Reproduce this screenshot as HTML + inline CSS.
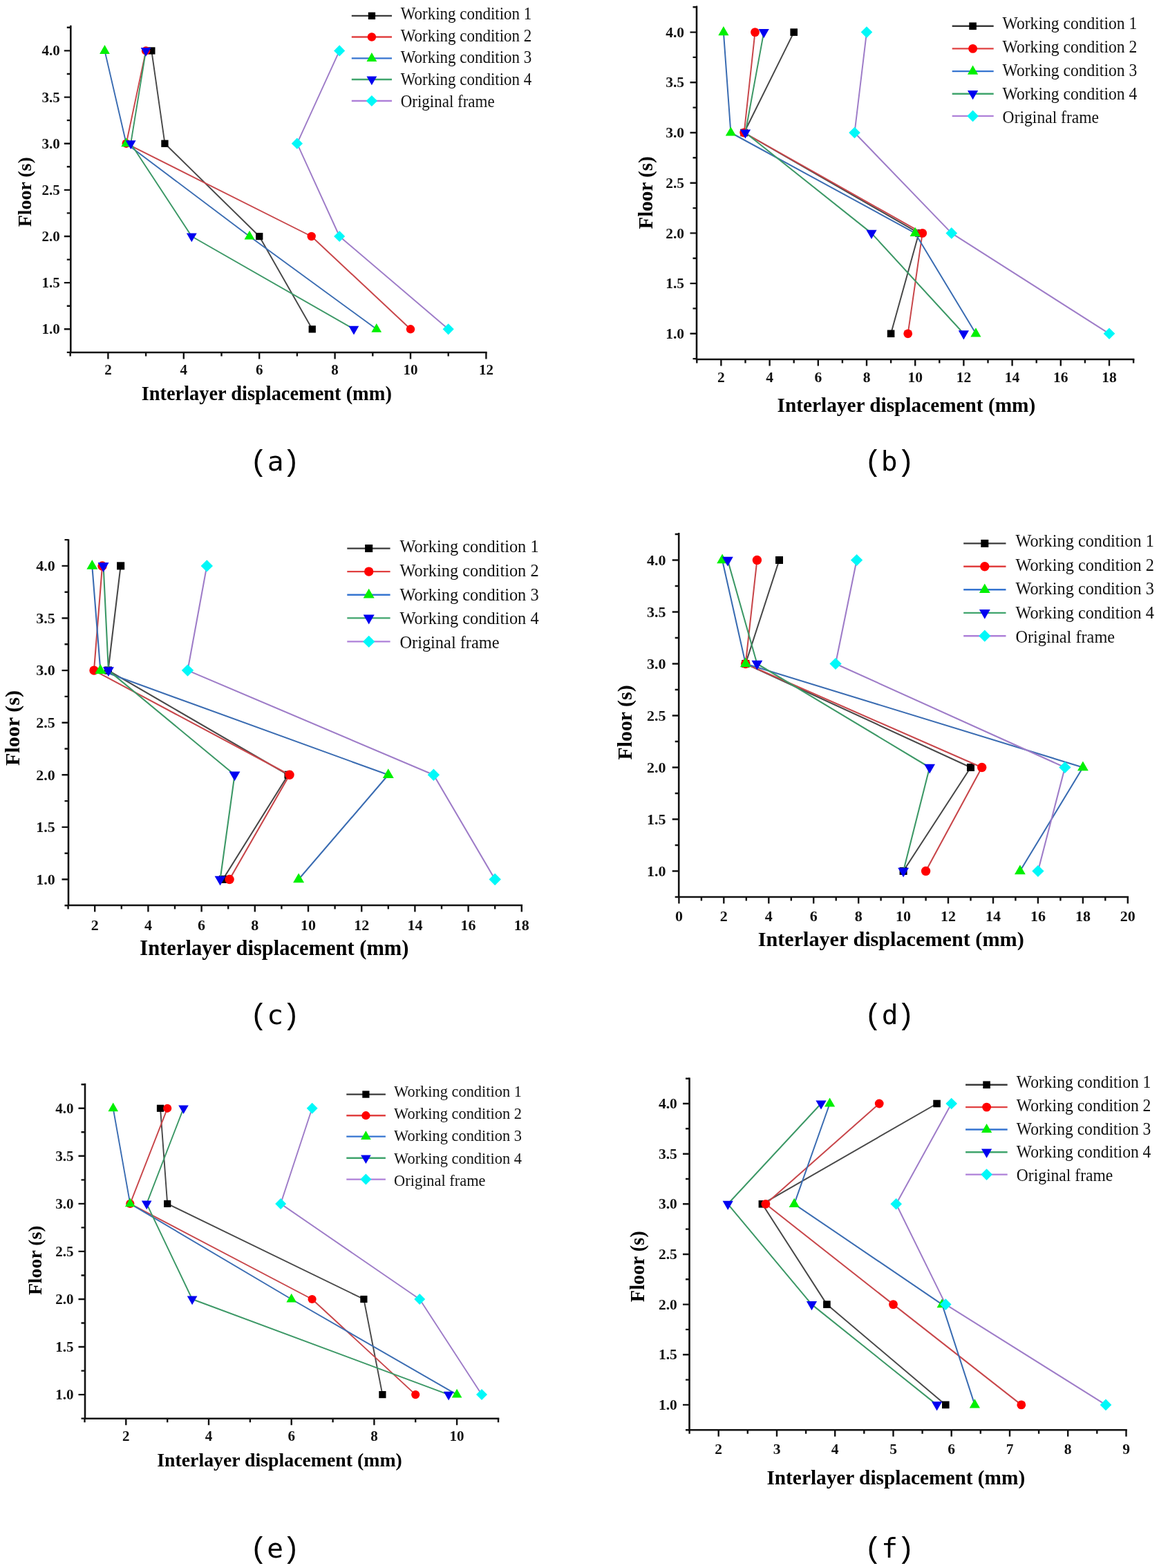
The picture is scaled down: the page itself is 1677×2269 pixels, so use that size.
<!DOCTYPE html>
<html><head><meta charset="utf-8"><title>Interlayer displacement</title>
<style>
html,body{margin:0;padding:0;background:#fff;}
svg{display:block;}

.tl{font-family:"Liberation Serif",serif;font-weight:bold;font-size:21px;fill:#111;}
.ti{font-family:"Liberation Serif",serif;font-weight:bold;fill:#000;}
.lg{font-family:"Liberation Serif",serif;fill:#111;}
.cap{font-family:"DejaVu Sans Mono",monospace;font-size:39.5px;fill:#000;}
.par{font-family:"Liberation Mono",monospace;font-size:42.6px;fill:#000;}
</style></head><body>
<svg width="1677" height="2269" viewBox="0 0 1677 2269">
<rect width="1677" height="2269" fill="#fff"/>
<path d="M102.3 38.0 V510.0 H703.4" fill="none" stroke="#111" stroke-width="2.6" stroke-linecap="square"/>
<text x="86.8" y="483.2" class="tl" style="font-size:21px" text-anchor="end">1.0</text>
<text x="86.8" y="416.1" class="tl" style="font-size:21px" text-anchor="end">1.5</text>
<text x="86.8" y="348.9" class="tl" style="font-size:21px" text-anchor="end">2.0</text>
<text x="86.8" y="281.8" class="tl" style="font-size:21px" text-anchor="end">2.5</text>
<text x="86.8" y="214.6" class="tl" style="font-size:21px" text-anchor="end">3.0</text>
<text x="86.8" y="147.5" class="tl" style="font-size:21px" text-anchor="end">3.5</text>
<text x="86.8" y="80.3" class="tl" style="font-size:21px" text-anchor="end">4.0</text>
<text x="156.4" y="542.0" class="tl" style="font-size:21px" text-anchor="middle">2</text>
<text x="265.8" y="542.0" class="tl" style="font-size:21px" text-anchor="middle">4</text>
<text x="375.2" y="542.0" class="tl" style="font-size:21px" text-anchor="middle">6</text>
<text x="484.6" y="542.0" class="tl" style="font-size:21px" text-anchor="middle">8</text>
<text x="594.0" y="542.0" class="tl" style="font-size:21px" text-anchor="middle">10</text>
<text x="703.4" y="542.0" class="tl" style="font-size:21px" text-anchor="middle">12</text>
<path d="M102.3 509.9 h-5.5 M102.3 476.3 h-9.5 M102.3 442.7 h-5.5 M102.3 409.1 h-9.5 M102.3 375.6 h-5.5 M102.3 342.0 h-9.5 M102.3 308.4 h-5.5 M102.3 274.9 h-9.5 M102.3 241.3 h-5.5 M102.3 207.7 h-9.5 M102.3 174.1 h-5.5 M102.3 140.6 h-9.5 M102.3 107.0 h-5.5 M102.3 73.4 h-9.5 M102.3 39.8 h-5.5 M156.4 510.0 v9.5 M265.8 510.0 v9.5 M375.2 510.0 v9.5 M484.6 510.0 v9.5 M594.0 510.0 v9.5 M703.4 510.0 v9.5 M101.7 510.0 v5.5 M211.1 510.0 v5.5 M320.5 510.0 v5.5 M429.9 510.0 v5.5 M539.3 510.0 v5.5 M648.7 510.0 v5.5" stroke="#111" stroke-width="2.4" fill="none"/>
<polyline points="451.8,476.3 375.2,342.0 238.5,207.7 219.3,73.4" fill="none" stroke="#484848" stroke-width="1.94" stroke-linejoin="round"/>
<rect x="446.6" y="471.2" width="10.3" height="10.3" fill="#000000"/>
<rect x="370.1" y="336.9" width="10.3" height="10.3" fill="#000000"/>
<rect x="233.3" y="202.6" width="10.3" height="10.3" fill="#000000"/>
<rect x="214.2" y="68.3" width="10.3" height="10.3" fill="#000000"/>
<polyline points="594.0,476.3 450.7,342.0 182.7,207.7 211.1,73.4" fill="none" stroke="#c8464a" stroke-width="1.94" stroke-linejoin="round"/>
<circle cx="594.0" cy="476.3" r="6.2" fill="#ff0000"/>
<circle cx="450.7" cy="342.0" r="6.2" fill="#ff0000"/>
<circle cx="182.7" cy="207.7" r="6.2" fill="#ff0000"/>
<circle cx="211.1" cy="73.4" r="6.2" fill="#ff0000"/>
<polyline points="544.8,476.3 361.0,342.0 182.7,207.7 151.5,73.4" fill="none" stroke="#3a6cb2" stroke-width="1.94" stroke-linejoin="round"/>
<polygon points="544.8,468.0 552.1,480.8 537.4,480.8" fill="#00f000"/>
<polygon points="361.0,333.7 368.4,346.5 353.6,346.5" fill="#00f000"/>
<polygon points="182.7,199.4 190.0,212.2 175.3,212.2" fill="#00f000"/>
<polygon points="151.5,65.1 158.8,77.9 144.1,77.9" fill="#00f000"/>
<polyline points="512.0,476.3 277.3,342.0 189.2,207.7 211.1,73.4" fill="none" stroke="#3c9866" stroke-width="1.94" stroke-linejoin="round"/>
<polygon points="512.0,484.6 519.3,471.8 504.6,471.8" fill="#0000f0"/>
<polygon points="277.3,350.3 284.7,337.5 269.9,337.5" fill="#0000f0"/>
<polygon points="189.2,216.0 196.6,203.2 181.8,203.2" fill="#0000f0"/>
<polygon points="211.1,81.7 218.5,68.9 203.7,68.9" fill="#0000f0"/>
<polyline points="648.7,476.3 491.2,342.0 429.9,207.7 491.2,73.4" fill="none" stroke="#9e7cc8" stroke-width="1.94" stroke-linejoin="round"/>
<polygon points="648.7,468.2 656.8,476.3 648.7,484.4 640.6,476.3" fill="#00f8f8"/>
<polygon points="491.2,333.9 499.2,342.0 491.2,350.1 483.1,342.0" fill="#00f8f8"/>
<polygon points="429.9,199.6 438.0,207.7 429.9,215.8 421.8,207.7" fill="#00f8f8"/>
<polygon points="491.2,65.3 499.2,73.4 491.2,81.5 483.1,73.4" fill="#00f8f8"/>
<line x1="508.8" y1="22.9" x2="567.0" y2="22.9" stroke="#3a3a3a" stroke-width="2.4"/>
<rect x="532.8" y="17.8" width="10.3" height="10.3" fill="#000000"/>
<text transform="translate(579.7 27.7) scale(1 1.07)" class="lg" style="font-size:23px">Working condition 1</text>
<line x1="508.8" y1="53.5" x2="567.0" y2="53.5" stroke="#e04040" stroke-width="2.4"/>
<circle cx="537.9" cy="53.5" r="6.2" fill="#ff0000"/>
<text transform="translate(579.7 59.5) scale(1 1.07)" class="lg" style="font-size:23px">Working condition 2</text>
<line x1="508.8" y1="84.4" x2="567.0" y2="84.4" stroke="#3574d0" stroke-width="2.4"/>
<polygon points="537.9,76.1 545.3,88.9 530.5,88.9" fill="#00f000"/>
<text transform="translate(579.7 91.4) scale(1 1.07)" class="lg" style="font-size:23px">Working condition 3</text>
<line x1="508.8" y1="115.0" x2="567.0" y2="115.0" stroke="#3fa46c" stroke-width="2.4"/>
<polygon points="537.9,123.3 545.3,110.5 530.5,110.5" fill="#0000f0"/>
<text transform="translate(579.7 123.2) scale(1 1.07)" class="lg" style="font-size:23px">Working condition 4</text>
<line x1="508.8" y1="146.0" x2="567.0" y2="146.0" stroke="#ae80d8" stroke-width="2.4"/>
<polygon points="537.9,137.9 546.0,146.0 537.9,154.1 529.8,146.0" fill="#00f8f8"/>
<text transform="translate(579.7 155.1) scale(1 1.07)" class="lg" style="font-size:23px">Original frame</text>
<text x="385.8" y="579.3" class="ti" style="font-size:28.4px" text-anchor="middle">Interlayer displacement (mm)</text>
<text transform="translate(45.2 277.8) rotate(-90)" class="ti" style="font-size:27.9px" text-anchor="middle">Floor (s)</text>
<text x="374.3" y="680.6" class="par" text-anchor="middle">(</text>
<text x="398.6" y="680.5" class="cap" text-anchor="middle">a</text>
<text x="421.4" y="680.6" class="par" text-anchor="middle">)</text>
<path d="M1008.0 9.7 V520.0 H1640.1" fill="none" stroke="#111" stroke-width="2.6" stroke-linecap="square"/>
<text x="990.0" y="489.9" class="tl" style="font-size:21.5px" text-anchor="end">1.0</text>
<text x="990.0" y="417.2" class="tl" style="font-size:21.5px" text-anchor="end">1.5</text>
<text x="990.0" y="344.5" class="tl" style="font-size:21.5px" text-anchor="end">2.0</text>
<text x="990.0" y="271.8" class="tl" style="font-size:21.5px" text-anchor="end">2.5</text>
<text x="990.0" y="199.1" class="tl" style="font-size:21.5px" text-anchor="end">3.0</text>
<text x="990.0" y="126.4" class="tl" style="font-size:21.5px" text-anchor="end">3.5</text>
<text x="990.0" y="53.7" class="tl" style="font-size:21.5px" text-anchor="end">4.0</text>
<text x="1043.4" y="553.2" class="tl" style="font-size:21.5px" text-anchor="middle">2</text>
<text x="1113.6" y="553.2" class="tl" style="font-size:21.5px" text-anchor="middle">4</text>
<text x="1183.8" y="553.2" class="tl" style="font-size:21.5px" text-anchor="middle">6</text>
<text x="1254.0" y="553.2" class="tl" style="font-size:21.5px" text-anchor="middle">8</text>
<text x="1324.2" y="553.2" class="tl" style="font-size:21.5px" text-anchor="middle">10</text>
<text x="1394.4" y="553.2" class="tl" style="font-size:21.5px" text-anchor="middle">12</text>
<text x="1464.6" y="553.2" class="tl" style="font-size:21.5px" text-anchor="middle">14</text>
<text x="1534.8" y="553.2" class="tl" style="font-size:21.5px" text-anchor="middle">16</text>
<text x="1605.0" y="553.2" class="tl" style="font-size:21.5px" text-anchor="middle">18</text>
<path d="M1008.0 519.1 h-5.5 M1008.0 482.8 h-9.5 M1008.0 446.4 h-5.5 M1008.0 410.1 h-9.5 M1008.0 373.8 h-5.5 M1008.0 337.4 h-9.5 M1008.0 301.1 h-5.5 M1008.0 264.7 h-9.5 M1008.0 228.3 h-5.5 M1008.0 192.0 h-9.5 M1008.0 155.6 h-5.5 M1008.0 119.3 h-9.5 M1008.0 82.9 h-5.5 M1008.0 46.6 h-9.5 M1008.0 10.2 h-5.5 M1043.4 520.0 v9.5 M1113.6 520.0 v9.5 M1183.8 520.0 v9.5 M1254.0 520.0 v9.5 M1324.2 520.0 v9.5 M1394.4 520.0 v9.5 M1464.6 520.0 v9.5 M1534.8 520.0 v9.5 M1605.0 520.0 v9.5 M1008.3 520.0 v5.5 M1078.5 520.0 v5.5 M1148.7 520.0 v5.5 M1218.9 520.0 v5.5 M1289.1 520.0 v5.5 M1359.3 520.0 v5.5 M1429.5 520.0 v5.5 M1499.7 520.0 v5.5 M1569.9 520.0 v5.5 M1640.1 520.0 v5.5" stroke="#111" stroke-width="2.4" fill="none"/>
<polyline points="1289.1,482.8 1329.5,337.4 1076.7,192.0 1148.7,46.6" fill="none" stroke="#484848" stroke-width="2.00" stroke-linejoin="round"/>
<rect x="1283.8" y="477.5" width="10.6" height="10.6" fill="#000000"/>
<rect x="1324.2" y="332.1" width="10.6" height="10.6" fill="#000000"/>
<rect x="1071.4" y="186.7" width="10.6" height="10.6" fill="#000000"/>
<rect x="1143.4" y="41.3" width="10.6" height="10.6" fill="#000000"/>
<polyline points="1313.7,482.8 1334.7,337.4 1076.7,192.0 1092.5,46.6" fill="none" stroke="#c8464a" stroke-width="2.00" stroke-linejoin="round"/>
<circle cx="1313.7" cy="482.8" r="6.4" fill="#ff0000"/>
<circle cx="1334.7" cy="337.4" r="6.4" fill="#ff0000"/>
<circle cx="1076.7" cy="192.0" r="6.4" fill="#ff0000"/>
<circle cx="1092.5" cy="46.6" r="6.4" fill="#ff0000"/>
<polyline points="1412.0,482.8 1324.2,337.4 1057.4,192.0 1046.9,46.6" fill="none" stroke="#3a6cb2" stroke-width="2.00" stroke-linejoin="round"/>
<polygon points="1412.0,474.2 1419.5,487.4 1404.4,487.4" fill="#00f000"/>
<polygon points="1324.2,328.8 1331.8,342.0 1316.6,342.0" fill="#00f000"/>
<polygon points="1057.4,183.4 1065.0,196.6 1049.8,196.6" fill="#00f000"/>
<polygon points="1046.9,38.0 1054.5,51.2 1039.3,51.2" fill="#00f000"/>
<polyline points="1394.4,482.8 1261.0,337.4 1078.5,192.0 1105.2,46.6" fill="none" stroke="#3c9866" stroke-width="2.00" stroke-linejoin="round"/>
<polygon points="1394.4,491.4 1402.0,478.2 1386.8,478.2" fill="#0000f0"/>
<polygon points="1261.0,346.0 1268.6,332.8 1253.4,332.8" fill="#0000f0"/>
<polygon points="1078.5,200.6 1086.1,187.4 1070.9,187.4" fill="#0000f0"/>
<polygon points="1105.2,55.2 1112.8,42.0 1097.6,42.0" fill="#0000f0"/>
<polyline points="1605.0,482.8 1376.8,337.4 1236.5,192.0 1254.0,46.6" fill="none" stroke="#9e7cc8" stroke-width="2.00" stroke-linejoin="round"/>
<polygon points="1605.0,474.5 1613.3,482.8 1605.0,491.1 1596.7,482.8" fill="#00f8f8"/>
<polygon points="1376.8,329.1 1385.1,337.4 1376.8,345.7 1368.5,337.4" fill="#00f8f8"/>
<polygon points="1236.5,183.7 1244.8,192.0 1236.5,200.3 1228.2,192.0" fill="#00f8f8"/>
<polygon points="1254.0,38.3 1262.3,46.6 1254.0,54.9 1245.7,46.6" fill="#00f8f8"/>
<line x1="1377.7" y1="37.8" x2="1437.7" y2="37.8" stroke="#3a3a3a" stroke-width="2.4"/>
<rect x="1402.3" y="32.5" width="10.6" height="10.6" fill="#000000"/>
<text transform="translate(1450.6 42.4) scale(1 1.07)" class="lg" style="font-size:23.6px">Working condition 1</text>
<line x1="1377.7" y1="70.4" x2="1437.7" y2="70.4" stroke="#e04040" stroke-width="2.4"/>
<circle cx="1407.6" cy="70.4" r="6.4" fill="#ff0000"/>
<text transform="translate(1450.6 76.2) scale(1 1.07)" class="lg" style="font-size:23.6px">Working condition 2</text>
<line x1="1377.7" y1="103.1" x2="1437.7" y2="103.1" stroke="#3574d0" stroke-width="2.4"/>
<polygon points="1407.6,94.5 1415.2,107.7 1400.0,107.7" fill="#00f000"/>
<text transform="translate(1450.6 109.9) scale(1 1.07)" class="lg" style="font-size:23.6px">Working condition 3</text>
<line x1="1377.7" y1="135.7" x2="1437.7" y2="135.7" stroke="#3fa46c" stroke-width="2.4"/>
<polygon points="1407.6,144.3 1415.2,131.1 1400.0,131.1" fill="#0000f0"/>
<text transform="translate(1450.6 143.7) scale(1 1.07)" class="lg" style="font-size:23.6px">Working condition 4</text>
<line x1="1377.7" y1="167.9" x2="1437.7" y2="167.9" stroke="#ae80d8" stroke-width="2.4"/>
<polygon points="1407.6,159.6 1415.9,167.9 1407.6,176.2 1399.3,167.9" fill="#00f8f8"/>
<text transform="translate(1450.6 177.5) scale(1 1.07)" class="lg" style="font-size:23.6px">Original frame</text>
<text x="1311.4" y="596.4" class="ti" style="font-size:29.3px" text-anchor="middle">Interlayer displacement (mm)</text>
<text transform="translate(943.8 278.9) rotate(-90)" class="ti" style="font-size:29.1px" text-anchor="middle">Floor (s)</text>
<text x="1263.4" y="680.6" class="par" text-anchor="middle">(</text>
<text x="1286.7" y="680.5" class="cap" text-anchor="middle">b</text>
<text x="1310.5" y="680.6" class="par" text-anchor="middle">)</text>
<path d="M99.0 781.6 V1310.0 H754.8" fill="none" stroke="#111" stroke-width="2.6" stroke-linecap="square"/>
<text x="79.8" y="1279.8" class="tl" style="font-size:22px" text-anchor="end">1.0</text>
<text x="79.8" y="1204.2" class="tl" style="font-size:22px" text-anchor="end">1.5</text>
<text x="79.8" y="1128.6" class="tl" style="font-size:22px" text-anchor="end">2.0</text>
<text x="79.8" y="1053.0" class="tl" style="font-size:22px" text-anchor="end">2.5</text>
<text x="79.8" y="977.4" class="tl" style="font-size:22px" text-anchor="end">3.0</text>
<text x="79.8" y="901.8" class="tl" style="font-size:22px" text-anchor="end">3.5</text>
<text x="79.8" y="826.2" class="tl" style="font-size:22px" text-anchor="end">4.0</text>
<text x="137.2" y="1345.8" class="tl" style="font-size:22px" text-anchor="middle">2</text>
<text x="214.4" y="1345.8" class="tl" style="font-size:22px" text-anchor="middle">4</text>
<text x="291.6" y="1345.8" class="tl" style="font-size:22px" text-anchor="middle">6</text>
<text x="368.8" y="1345.8" class="tl" style="font-size:22px" text-anchor="middle">8</text>
<text x="446.0" y="1345.8" class="tl" style="font-size:22px" text-anchor="middle">10</text>
<text x="523.2" y="1345.8" class="tl" style="font-size:22px" text-anchor="middle">12</text>
<text x="600.4" y="1345.8" class="tl" style="font-size:22px" text-anchor="middle">14</text>
<text x="677.6" y="1345.8" class="tl" style="font-size:22px" text-anchor="middle">16</text>
<text x="754.8" y="1345.8" class="tl" style="font-size:22px" text-anchor="middle">18</text>
<path d="M99.0 1310.3 h-5.5 M99.0 1272.5 h-9.5 M99.0 1234.7 h-5.5 M99.0 1196.9 h-9.5 M99.0 1159.1 h-5.5 M99.0 1121.3 h-9.5 M99.0 1083.5 h-5.5 M99.0 1045.7 h-9.5 M99.0 1007.9 h-5.5 M99.0 970.1 h-9.5 M99.0 932.3 h-5.5 M99.0 894.5 h-9.5 M99.0 856.7 h-5.5 M99.0 818.9 h-9.5 M99.0 781.1 h-5.5 M137.2 1310.0 v9.5 M214.4 1310.0 v9.5 M291.6 1310.0 v9.5 M368.8 1310.0 v9.5 M446.0 1310.0 v9.5 M523.2 1310.0 v9.5 M600.4 1310.0 v9.5 M677.6 1310.0 v9.5 M754.8 1310.0 v9.5 M98.6 1310.0 v5.5 M175.8 1310.0 v5.5 M253.0 1310.0 v5.5 M330.2 1310.0 v5.5 M407.4 1310.0 v5.5 M484.6 1310.0 v5.5 M561.8 1310.0 v5.5 M639.0 1310.0 v5.5 M716.2 1310.0 v5.5" stroke="#111" stroke-width="2.4" fill="none"/>
<polyline points="322.5,1272.5 417.0,1121.3 156.5,970.1 174.6,818.9" fill="none" stroke="#484848" stroke-width="2.10" stroke-linejoin="round"/>
<rect x="316.9" y="1266.9" width="11.1" height="11.1" fill="#000000"/>
<rect x="411.5" y="1115.7" width="11.1" height="11.1" fill="#000000"/>
<rect x="150.9" y="964.5" width="11.1" height="11.1" fill="#000000"/>
<rect x="169.1" y="813.3" width="11.1" height="11.1" fill="#000000"/>
<polyline points="332.1,1272.5 419.0,1121.3 136.0,970.1 148.0,818.9" fill="none" stroke="#c8464a" stroke-width="2.10" stroke-linejoin="round"/>
<circle cx="332.1" cy="1272.5" r="6.7" fill="#ff0000"/>
<circle cx="419.0" cy="1121.3" r="6.7" fill="#ff0000"/>
<circle cx="136.0" cy="970.1" r="6.7" fill="#ff0000"/>
<circle cx="148.0" cy="818.9" r="6.7" fill="#ff0000"/>
<polyline points="432.1,1272.5 561.8,1121.3 145.3,970.1 133.3,818.9" fill="none" stroke="#3a6cb2" stroke-width="2.10" stroke-linejoin="round"/>
<polygon points="432.1,1263.5 440.1,1277.3 424.1,1277.3" fill="#00f000"/>
<polygon points="561.8,1112.3 569.8,1126.1 553.8,1126.1" fill="#00f000"/>
<polygon points="145.3,961.1 153.3,974.9 137.3,974.9" fill="#00f000"/>
<polygon points="133.3,809.9 141.3,823.7 125.4,823.7" fill="#00f000"/>
<polyline points="318.6,1272.5 339.5,1121.3 156.9,970.1 149.6,818.9" fill="none" stroke="#3c9866" stroke-width="2.10" stroke-linejoin="round"/>
<polygon points="318.6,1281.5 326.6,1267.7 310.6,1267.7" fill="#0000f0"/>
<polygon points="339.5,1130.3 347.4,1116.5 331.5,1116.5" fill="#0000f0"/>
<polygon points="156.9,979.1 164.9,965.3 148.9,965.3" fill="#0000f0"/>
<polygon points="149.6,827.9 157.5,814.1 141.6,814.1" fill="#0000f0"/>
<polyline points="716.2,1272.5 627.4,1121.3 271.5,970.1 299.3,818.9" fill="none" stroke="#9e7cc8" stroke-width="2.10" stroke-linejoin="round"/>
<polygon points="716.2,1263.8 724.9,1272.5 716.2,1281.2 707.5,1272.5" fill="#00f8f8"/>
<polygon points="627.4,1112.6 636.1,1121.3 627.4,1130.0 618.7,1121.3" fill="#00f8f8"/>
<polygon points="271.5,961.4 280.2,970.1 271.5,978.8 262.8,970.1" fill="#00f8f8"/>
<polygon points="299.3,810.2 308.0,818.9 299.3,827.6 290.6,818.9" fill="#00f8f8"/>
<line x1="502.3" y1="793.6" x2="564.6" y2="793.6" stroke="#3a3a3a" stroke-width="2.4"/>
<rect x="528.1" y="788.0" width="11.1" height="11.1" fill="#000000"/>
<text transform="translate(578.4 798.7) scale(1 1.07)" class="lg" style="font-size:24.4px">Working condition 1</text>
<line x1="502.3" y1="827.1" x2="564.6" y2="827.1" stroke="#e04040" stroke-width="2.4"/>
<circle cx="533.7" cy="827.1" r="6.7" fill="#ff0000"/>
<text transform="translate(578.4 833.6) scale(1 1.07)" class="lg" style="font-size:24.4px">Working condition 2</text>
<line x1="502.3" y1="860.7" x2="564.6" y2="860.7" stroke="#3574d0" stroke-width="2.4"/>
<polygon points="533.7,851.7 541.7,865.5 525.7,865.5" fill="#00f000"/>
<text transform="translate(578.4 868.5) scale(1 1.07)" class="lg" style="font-size:24.4px">Working condition 3</text>
<line x1="502.3" y1="894.4" x2="564.6" y2="894.4" stroke="#3fa46c" stroke-width="2.4"/>
<polygon points="533.7,903.4 541.7,889.6 525.7,889.6" fill="#0000f0"/>
<text transform="translate(578.4 903.3) scale(1 1.07)" class="lg" style="font-size:24.4px">Working condition 4</text>
<line x1="502.3" y1="928.4" x2="564.6" y2="928.4" stroke="#ae80d8" stroke-width="2.4"/>
<polygon points="533.7,919.7 542.4,928.4 533.7,937.1 525.0,928.4" fill="#00f8f8"/>
<text transform="translate(578.4 938.2) scale(1 1.07)" class="lg" style="font-size:24.4px">Original frame</text>
<text x="396.9" y="1381.8" class="ti" style="font-size:30.5px" text-anchor="middle">Interlayer displacement (mm)</text>
<text transform="translate(28.4 1053.5) rotate(-90)" class="ti" style="font-size:30.1px" text-anchor="middle">Floor (s)</text>
<text x="374.3" y="1482.1" class="par" text-anchor="middle">(</text>
<text x="398.1" y="1482.3" class="cap" text-anchor="middle">c</text>
<text x="421.4" y="1482.1" class="par" text-anchor="middle">)</text>
<path d="M982.2 772.2 V1298.0 H1631.8" fill="none" stroke="#111" stroke-width="2.6" stroke-linecap="square"/>
<text x="963.5" y="1267.8" class="tl" style="font-size:22px" text-anchor="end">1.0</text>
<text x="963.5" y="1192.8" class="tl" style="font-size:22px" text-anchor="end">1.5</text>
<text x="963.5" y="1117.8" class="tl" style="font-size:22px" text-anchor="end">2.0</text>
<text x="963.5" y="1042.8" class="tl" style="font-size:22px" text-anchor="end">2.5</text>
<text x="963.5" y="967.8" class="tl" style="font-size:22px" text-anchor="end">3.0</text>
<text x="963.5" y="892.8" class="tl" style="font-size:22px" text-anchor="end">3.5</text>
<text x="963.5" y="817.8" class="tl" style="font-size:22px" text-anchor="end">4.0</text>
<text x="982.4" y="1333.0" class="tl" style="font-size:22px" text-anchor="middle">0</text>
<text x="1047.3" y="1333.0" class="tl" style="font-size:22px" text-anchor="middle">2</text>
<text x="1112.3" y="1333.0" class="tl" style="font-size:22px" text-anchor="middle">4</text>
<text x="1177.2" y="1333.0" class="tl" style="font-size:22px" text-anchor="middle">6</text>
<text x="1242.2" y="1333.0" class="tl" style="font-size:22px" text-anchor="middle">8</text>
<text x="1307.1" y="1333.0" class="tl" style="font-size:22px" text-anchor="middle">10</text>
<text x="1372.0" y="1333.0" class="tl" style="font-size:22px" text-anchor="middle">12</text>
<text x="1437.0" y="1333.0" class="tl" style="font-size:22px" text-anchor="middle">14</text>
<text x="1501.9" y="1333.0" class="tl" style="font-size:22px" text-anchor="middle">16</text>
<text x="1566.9" y="1333.0" class="tl" style="font-size:22px" text-anchor="middle">18</text>
<text x="1631.8" y="1333.0" class="tl" style="font-size:22px" text-anchor="middle">20</text>
<path d="M982.2 1298.0 h-5.5 M982.2 1260.5 h-9.5 M982.2 1223.0 h-5.5 M982.2 1185.5 h-9.5 M982.2 1148.0 h-5.5 M982.2 1110.5 h-9.5 M982.2 1073.0 h-5.5 M982.2 1035.5 h-9.5 M982.2 998.0 h-5.5 M982.2 960.5 h-9.5 M982.2 923.0 h-5.5 M982.2 885.5 h-9.5 M982.2 848.0 h-5.5 M982.2 810.5 h-9.5 M982.2 773.0 h-5.5 M982.4 1298.0 v9.5 M1047.3 1298.0 v9.5 M1112.3 1298.0 v9.5 M1177.2 1298.0 v9.5 M1242.2 1298.0 v9.5 M1307.1 1298.0 v9.5 M1372.0 1298.0 v9.5 M1437.0 1298.0 v9.5 M1501.9 1298.0 v9.5 M1566.9 1298.0 v9.5 M1631.8 1298.0 v9.5 M1014.9 1298.0 v5.5 M1079.8 1298.0 v5.5 M1144.8 1298.0 v5.5 M1209.7 1298.0 v5.5 M1274.6 1298.0 v5.5 M1339.6 1298.0 v5.5 M1404.5 1298.0 v5.5 M1469.4 1298.0 v5.5 M1534.4 1298.0 v5.5 M1599.3 1298.0 v5.5" stroke="#111" stroke-width="2.4" fill="none"/>
<polyline points="1307.1,1260.5 1404.5,1110.5 1078.8,960.5 1127.5,810.5" fill="none" stroke="#484848" stroke-width="2.08" stroke-linejoin="round"/>
<rect x="1301.6" y="1255.0" width="11.0" height="11.0" fill="#000000"/>
<rect x="1399.0" y="1105.0" width="11.0" height="11.0" fill="#000000"/>
<rect x="1073.3" y="955.0" width="11.0" height="11.0" fill="#000000"/>
<rect x="1122.0" y="805.0" width="11.0" height="11.0" fill="#000000"/>
<polyline points="1339.6,1260.5 1420.7,1110.5 1078.8,960.5 1095.4,810.5" fill="none" stroke="#c8464a" stroke-width="2.08" stroke-linejoin="round"/>
<circle cx="1339.6" cy="1260.5" r="6.7" fill="#ff0000"/>
<circle cx="1420.7" cy="1110.5" r="6.7" fill="#ff0000"/>
<circle cx="1078.8" cy="960.5" r="6.7" fill="#ff0000"/>
<circle cx="1095.4" cy="810.5" r="6.7" fill="#ff0000"/>
<polyline points="1475.9,1260.5 1566.9,1110.5 1078.8,960.5 1045.1,810.5" fill="none" stroke="#3a6cb2" stroke-width="2.08" stroke-linejoin="round"/>
<polygon points="1475.9,1251.6 1483.8,1265.3 1468.0,1265.3" fill="#00f000"/>
<polygon points="1566.9,1101.6 1574.8,1115.3 1559.0,1115.3" fill="#00f000"/>
<polygon points="1078.8,951.6 1086.7,965.3 1070.9,965.3" fill="#00f000"/>
<polygon points="1045.1,801.6 1053.0,815.3 1037.2,815.3" fill="#00f000"/>
<polyline points="1307.1,1260.5 1345.1,1110.5 1095.4,960.5 1052.9,810.5" fill="none" stroke="#3c9866" stroke-width="2.08" stroke-linejoin="round"/>
<polygon points="1307.1,1269.4 1315.0,1255.7 1299.2,1255.7" fill="#0000f0"/>
<polygon points="1345.1,1119.4 1353.0,1105.7 1337.2,1105.7" fill="#0000f0"/>
<polygon points="1095.4,969.4 1103.3,955.7 1087.5,955.7" fill="#0000f0"/>
<polygon points="1052.9,819.4 1060.8,805.7 1045.0,805.7" fill="#0000f0"/>
<polyline points="1501.9,1260.5 1540.9,1110.5 1209.0,960.5 1239.6,810.5" fill="none" stroke="#9e7cc8" stroke-width="2.08" stroke-linejoin="round"/>
<polygon points="1501.9,1251.9 1510.6,1260.5 1501.9,1269.1 1493.3,1260.5" fill="#00f8f8"/>
<polygon points="1540.9,1101.9 1549.5,1110.5 1540.9,1119.1 1532.3,1110.5" fill="#00f8f8"/>
<polygon points="1209.0,951.9 1217.7,960.5 1209.0,969.1 1200.4,960.5" fill="#00f8f8"/>
<polygon points="1239.6,801.9 1248.2,810.5 1239.6,819.1 1230.9,810.5" fill="#00f8f8"/>
<line x1="1394.2" y1="786.4" x2="1455.5" y2="786.4" stroke="#3a3a3a" stroke-width="2.4"/>
<rect x="1419.3" y="780.9" width="11.0" height="11.0" fill="#000000"/>
<text transform="translate(1469.4 790.7) scale(1 1.07)" class="lg" style="font-size:24.3px">Working condition 1</text>
<line x1="1394.2" y1="819.8" x2="1455.5" y2="819.8" stroke="#e04040" stroke-width="2.4"/>
<circle cx="1424.8" cy="819.8" r="6.7" fill="#ff0000"/>
<text transform="translate(1469.4 825.5) scale(1 1.07)" class="lg" style="font-size:24.3px">Working condition 2</text>
<line x1="1394.2" y1="853.3" x2="1455.5" y2="853.3" stroke="#3574d0" stroke-width="2.4"/>
<polygon points="1424.8,844.4 1432.7,858.1 1416.9,858.1" fill="#00f000"/>
<text transform="translate(1469.4 860.2) scale(1 1.07)" class="lg" style="font-size:24.3px">Working condition 3</text>
<line x1="1394.2" y1="886.9" x2="1455.5" y2="886.9" stroke="#3fa46c" stroke-width="2.4"/>
<polygon points="1424.8,895.8 1432.7,882.1 1416.9,882.1" fill="#0000f0"/>
<text transform="translate(1469.4 895.0) scale(1 1.07)" class="lg" style="font-size:24.3px">Working condition 4</text>
<line x1="1394.2" y1="920.2" x2="1455.5" y2="920.2" stroke="#ae80d8" stroke-width="2.4"/>
<polygon points="1424.8,911.6 1433.4,920.2 1424.8,928.8 1416.2,920.2" fill="#00f8f8"/>
<text transform="translate(1469.4 929.7) scale(1 1.07)" class="lg" style="font-size:24.3px">Original frame</text>
<text x="1289.2" y="1369.2" class="ti" style="font-size:30.2px" text-anchor="middle">Interlayer displacement (mm)</text>
<text transform="translate(913.6 1045.5) rotate(-90)" class="ti" style="font-size:29.9px" text-anchor="middle">Floor (s)</text>
<text x="1263.4" y="1482.1" class="par" text-anchor="middle">(</text>
<text x="1287.7" y="1482.3" class="cap" text-anchor="middle">d</text>
<text x="1310.5" y="1482.1" class="par" text-anchor="middle">)</text>
<path d="M123.0 1569.0 V2052.8 H721.0" fill="none" stroke="#111" stroke-width="2.6" stroke-linecap="square"/>
<text x="106.5" y="2025.0" class="tl" style="font-size:21px" text-anchor="end">1.0</text>
<text x="106.5" y="1956.0" class="tl" style="font-size:21px" text-anchor="end">1.5</text>
<text x="106.5" y="1886.9" class="tl" style="font-size:21px" text-anchor="end">2.0</text>
<text x="106.5" y="1817.9" class="tl" style="font-size:21px" text-anchor="end">2.5</text>
<text x="106.5" y="1748.8" class="tl" style="font-size:21px" text-anchor="end">3.0</text>
<text x="106.5" y="1679.8" class="tl" style="font-size:21px" text-anchor="end">3.5</text>
<text x="106.5" y="1610.7" class="tl" style="font-size:21px" text-anchor="end">4.0</text>
<text x="182.3" y="2085.4" class="tl" style="font-size:21px" text-anchor="middle">2</text>
<text x="302.0" y="2085.4" class="tl" style="font-size:21px" text-anchor="middle">4</text>
<text x="421.7" y="2085.4" class="tl" style="font-size:21px" text-anchor="middle">6</text>
<text x="541.4" y="2085.4" class="tl" style="font-size:21px" text-anchor="middle">8</text>
<text x="661.1" y="2085.4" class="tl" style="font-size:21px" text-anchor="middle">10</text>
<path d="M123.0 2052.6 h-5.5 M123.0 2018.1 h-9.5 M123.0 1983.6 h-5.5 M123.0 1949.0 h-9.5 M123.0 1914.5 h-5.5 M123.0 1880.0 h-9.5 M123.0 1845.5 h-5.5 M123.0 1810.9 h-9.5 M123.0 1776.4 h-5.5 M123.0 1741.9 h-9.5 M123.0 1707.4 h-5.5 M123.0 1672.8 h-9.5 M123.0 1638.3 h-5.5 M123.0 1603.8 h-9.5 M123.0 1569.3 h-5.5 M182.3 2052.8 v9.5 M302.0 2052.8 v9.5 M421.7 2052.8 v9.5 M541.4 2052.8 v9.5 M661.1 2052.8 v9.5 M122.5 2052.8 v5.5 M242.2 2052.8 v5.5 M361.9 2052.8 v5.5 M481.6 2052.8 v5.5 M601.2 2052.8 v5.5 M721.0 2052.8 v5.5" stroke="#111" stroke-width="2.4" fill="none"/>
<polyline points="553.4,2018.1 526.4,1880.0 242.2,1741.9 232.0,1603.8" fill="none" stroke="#484848" stroke-width="1.92" stroke-linejoin="round"/>
<rect x="548.3" y="2013.0" width="10.2" height="10.2" fill="#000000"/>
<rect x="521.3" y="1874.9" width="10.2" height="10.2" fill="#000000"/>
<rect x="237.1" y="1736.8" width="10.2" height="10.2" fill="#000000"/>
<rect x="226.9" y="1598.7" width="10.2" height="10.2" fill="#000000"/>
<polyline points="601.2,2018.1 451.6,1880.0 188.3,1741.9 242.2,1603.8" fill="none" stroke="#c8464a" stroke-width="1.92" stroke-linejoin="round"/>
<circle cx="601.2" cy="2018.1" r="6.1" fill="#ff0000"/>
<circle cx="451.6" cy="1880.0" r="6.1" fill="#ff0000"/>
<circle cx="188.3" cy="1741.9" r="6.1" fill="#ff0000"/>
<circle cx="242.2" cy="1603.8" r="6.1" fill="#ff0000"/>
<polyline points="661.1,2018.1 421.7,1880.0 188.3,1741.9 163.7,1603.8" fill="none" stroke="#3a6cb2" stroke-width="1.92" stroke-linejoin="round"/>
<polygon points="661.1,2009.8 668.4,2022.5 653.8,2022.5" fill="#00f000"/>
<polygon points="421.7,1871.7 429.0,1884.4 414.4,1884.4" fill="#00f000"/>
<polygon points="188.3,1733.6 195.6,1746.3 181.0,1746.3" fill="#00f000"/>
<polygon points="163.7,1595.5 171.0,1608.2 156.5,1608.2" fill="#00f000"/>
<polyline points="649.1,2018.1 278.1,1880.0 212.2,1741.9 265.5,1603.8" fill="none" stroke="#3c9866" stroke-width="1.92" stroke-linejoin="round"/>
<polygon points="649.1,2026.4 656.4,2013.7 641.8,2013.7" fill="#0000f0"/>
<polygon points="278.1,1888.3 285.4,1875.6 270.8,1875.6" fill="#0000f0"/>
<polygon points="212.2,1750.2 219.5,1737.5 204.9,1737.5" fill="#0000f0"/>
<polygon points="265.5,1612.1 272.8,1599.4 258.2,1599.4" fill="#0000f0"/>
<polyline points="697.0,2018.1 607.2,1880.0 406.1,1741.9 451.6,1603.8" fill="none" stroke="#9e7cc8" stroke-width="1.92" stroke-linejoin="round"/>
<polygon points="697.0,2010.1 705.0,2018.1 697.0,2026.1 689.0,2018.1" fill="#00f8f8"/>
<polygon points="607.2,1872.0 615.2,1880.0 607.2,1888.0 599.3,1880.0" fill="#00f8f8"/>
<polygon points="406.1,1733.9 414.1,1741.9 406.1,1749.9 398.2,1741.9" fill="#00f8f8"/>
<polygon points="451.6,1595.8 459.6,1603.8 451.6,1611.8 443.7,1603.8" fill="#00f8f8"/>
<line x1="501.3" y1="1583.6" x2="557.9" y2="1583.6" stroke="#3a3a3a" stroke-width="2.4"/>
<rect x="524.3" y="1578.5" width="10.2" height="10.2" fill="#000000"/>
<text transform="translate(570.1 1587.1) scale(1 1.07)" class="lg" style="font-size:22.4px">Working condition 1</text>
<line x1="501.3" y1="1614.2" x2="557.9" y2="1614.2" stroke="#e04040" stroke-width="2.4"/>
<circle cx="529.4" cy="1614.2" r="6.1" fill="#ff0000"/>
<text transform="translate(570.1 1619.2) scale(1 1.07)" class="lg" style="font-size:22.4px">Working condition 2</text>
<line x1="501.3" y1="1644.6" x2="557.9" y2="1644.6" stroke="#3574d0" stroke-width="2.4"/>
<polygon points="529.4,1636.3 536.7,1649.0 522.1,1649.0" fill="#00f000"/>
<text transform="translate(570.1 1651.3) scale(1 1.07)" class="lg" style="font-size:22.4px">Working condition 3</text>
<line x1="501.3" y1="1675.8" x2="557.9" y2="1675.8" stroke="#3fa46c" stroke-width="2.4"/>
<polygon points="529.4,1684.1 536.7,1671.4 522.1,1671.4" fill="#0000f0"/>
<text transform="translate(570.1 1683.5) scale(1 1.07)" class="lg" style="font-size:22.4px">Working condition 4</text>
<line x1="501.3" y1="1706.6" x2="557.9" y2="1706.6" stroke="#ae80d8" stroke-width="2.4"/>
<polygon points="529.4,1698.6 537.4,1706.6 529.4,1714.6 521.4,1706.6" fill="#00f8f8"/>
<text transform="translate(570.1 1715.6) scale(1 1.07)" class="lg" style="font-size:22.4px">Original frame</text>
<text x="404.5" y="2122.3" class="ti" style="font-size:27.8px" text-anchor="middle">Interlayer displacement (mm)</text>
<text transform="translate(59.5 1823.8) rotate(-90)" class="ti" style="font-size:27.8px" text-anchor="middle">Floor (s)</text>
<text x="374.3" y="2253.9" class="par" text-anchor="middle">(</text>
<text x="398.1" y="2254.2" class="cap" text-anchor="middle">e</text>
<text x="421.4" y="2253.9" class="par" text-anchor="middle">)</text>
<path d="M997.5 1560.7 V2069.2 H1629.5" fill="none" stroke="#111" stroke-width="2.6" stroke-linecap="square"/>
<text x="979.8" y="2040.0" class="tl" style="font-size:21.5px" text-anchor="end">1.0</text>
<text x="979.8" y="1967.3" class="tl" style="font-size:21.5px" text-anchor="end">1.5</text>
<text x="979.8" y="1894.7" class="tl" style="font-size:21.5px" text-anchor="end">2.0</text>
<text x="979.8" y="1822.0" class="tl" style="font-size:21.5px" text-anchor="end">2.5</text>
<text x="979.8" y="1749.4" class="tl" style="font-size:21.5px" text-anchor="end">3.0</text>
<text x="979.8" y="1676.7" class="tl" style="font-size:21.5px" text-anchor="end">3.5</text>
<text x="979.8" y="1604.1" class="tl" style="font-size:21.5px" text-anchor="end">4.0</text>
<text x="1039.7" y="2103.5" class="tl" style="font-size:21.5px" text-anchor="middle">2</text>
<text x="1124.0" y="2103.5" class="tl" style="font-size:21.5px" text-anchor="middle">3</text>
<text x="1208.2" y="2103.5" class="tl" style="font-size:21.5px" text-anchor="middle">4</text>
<text x="1292.5" y="2103.5" class="tl" style="font-size:21.5px" text-anchor="middle">5</text>
<text x="1376.7" y="2103.5" class="tl" style="font-size:21.5px" text-anchor="middle">6</text>
<text x="1461.0" y="2103.5" class="tl" style="font-size:21.5px" text-anchor="middle">7</text>
<text x="1545.2" y="2103.5" class="tl" style="font-size:21.5px" text-anchor="middle">8</text>
<text x="1629.5" y="2103.5" class="tl" style="font-size:21.5px" text-anchor="middle">9</text>
<path d="M997.5 2069.2 h-5.5 M997.5 2032.9 h-9.5 M997.5 1996.6 h-5.5 M997.5 1960.2 h-9.5 M997.5 1923.9 h-5.5 M997.5 1887.6 h-9.5 M997.5 1851.3 h-5.5 M997.5 1815.0 h-9.5 M997.5 1778.6 h-5.5 M997.5 1742.3 h-9.5 M997.5 1706.0 h-5.5 M997.5 1669.7 h-9.5 M997.5 1633.3 h-5.5 M997.5 1597.0 h-9.5 M997.5 1560.7 h-5.5 M1039.7 2069.2 v9.5 M1124.0 2069.2 v9.5 M1208.2 2069.2 v9.5 M1292.5 2069.2 v9.5 M1376.7 2069.2 v9.5 M1461.0 2069.2 v9.5 M1545.2 2069.2 v9.5 M1629.5 2069.2 v9.5 M997.6 2069.2 v5.5 M1081.8 2069.2 v5.5 M1166.1 2069.2 v5.5 M1250.3 2069.2 v5.5 M1334.6 2069.2 v5.5 M1418.8 2069.2 v5.5 M1503.1 2069.2 v5.5 M1587.3 2069.2 v5.5" stroke="#111" stroke-width="2.4" fill="none"/>
<polyline points="1368.3,2032.9 1196.4,1887.6 1102.9,1742.3 1355.6,1597.0" fill="none" stroke="#484848" stroke-width="2.00" stroke-linejoin="round"/>
<rect x="1363.0" y="2027.6" width="10.6" height="10.6" fill="#000000"/>
<rect x="1191.1" y="1882.3" width="10.6" height="10.6" fill="#000000"/>
<rect x="1097.6" y="1737.0" width="10.6" height="10.6" fill="#000000"/>
<rect x="1350.3" y="1591.7" width="10.6" height="10.6" fill="#000000"/>
<polyline points="1477.8,2032.9 1292.5,1887.6 1107.9,1742.3 1272.2,1597.0" fill="none" stroke="#c8464a" stroke-width="2.00" stroke-linejoin="round"/>
<circle cx="1477.8" cy="2032.9" r="6.4" fill="#ff0000"/>
<circle cx="1292.5" cy="1887.6" r="6.4" fill="#ff0000"/>
<circle cx="1107.9" cy="1742.3" r="6.4" fill="#ff0000"/>
<circle cx="1272.2" cy="1597.0" r="6.4" fill="#ff0000"/>
<polyline points="1410.4,2032.9 1363.2,1887.6 1149.2,1742.3 1200.6,1597.0" fill="none" stroke="#3a6cb2" stroke-width="2.00" stroke-linejoin="round"/>
<polygon points="1410.4,2024.3 1418.0,2037.5 1402.8,2037.5" fill="#00f000"/>
<polygon points="1363.2,1879.0 1370.8,1892.2 1355.6,1892.2" fill="#00f000"/>
<polygon points="1149.2,1733.7 1156.8,1746.9 1141.6,1746.9" fill="#00f000"/>
<polygon points="1200.6,1588.4 1208.2,1601.6 1193.0,1601.6" fill="#00f000"/>
<polyline points="1355.6,2032.9 1174.5,1887.6 1053.2,1742.3 1188.0,1597.0" fill="none" stroke="#3c9866" stroke-width="2.00" stroke-linejoin="round"/>
<polygon points="1355.6,2041.5 1363.2,2028.3 1348.0,2028.3" fill="#0000f0"/>
<polygon points="1174.5,1896.2 1182.1,1883.0 1166.9,1883.0" fill="#0000f0"/>
<polygon points="1053.2,1750.9 1060.8,1737.7 1045.6,1737.7" fill="#0000f0"/>
<polygon points="1188.0,1605.6 1195.6,1592.4 1180.4,1592.4" fill="#0000f0"/>
<polyline points="1600.0,2032.9 1368.3,1887.6 1296.7,1742.3 1376.7,1597.0" fill="none" stroke="#9e7cc8" stroke-width="2.00" stroke-linejoin="round"/>
<polygon points="1600.0,2024.6 1608.3,2032.9 1600.0,2041.2 1591.7,2032.9" fill="#00f8f8"/>
<polygon points="1368.3,1879.3 1376.6,1887.6 1368.3,1895.9 1360.0,1887.6" fill="#00f8f8"/>
<polygon points="1296.7,1734.0 1305.0,1742.3 1296.7,1750.6 1288.4,1742.3" fill="#00f8f8"/>
<polygon points="1376.7,1588.7 1385.0,1597.0 1376.7,1605.3 1368.4,1597.0" fill="#00f8f8"/>
<line x1="1397.1" y1="1569.8" x2="1457.7" y2="1569.8" stroke="#3a3a3a" stroke-width="2.4"/>
<rect x="1422.3" y="1564.5" width="10.6" height="10.6" fill="#000000"/>
<text transform="translate(1470.8 1574.3) scale(1 1.07)" class="lg" style="font-size:23.6px">Working condition 1</text>
<line x1="1397.1" y1="1602.1" x2="1457.7" y2="1602.1" stroke="#e04040" stroke-width="2.4"/>
<circle cx="1427.6" cy="1602.1" r="6.4" fill="#ff0000"/>
<text transform="translate(1470.8 1608.0) scale(1 1.07)" class="lg" style="font-size:23.6px">Working condition 2</text>
<line x1="1397.1" y1="1634.5" x2="1457.7" y2="1634.5" stroke="#3574d0" stroke-width="2.4"/>
<polygon points="1427.6,1625.9 1435.2,1639.1 1420.0,1639.1" fill="#00f000"/>
<text transform="translate(1470.8 1641.6) scale(1 1.07)" class="lg" style="font-size:23.6px">Working condition 3</text>
<line x1="1397.1" y1="1667.2" x2="1457.7" y2="1667.2" stroke="#3fa46c" stroke-width="2.4"/>
<polygon points="1427.6,1675.8 1435.2,1662.6 1420.0,1662.6" fill="#0000f0"/>
<text transform="translate(1470.8 1675.2) scale(1 1.07)" class="lg" style="font-size:23.6px">Working condition 4</text>
<line x1="1397.1" y1="1699.6" x2="1457.7" y2="1699.6" stroke="#ae80d8" stroke-width="2.4"/>
<polygon points="1427.6,1691.3 1435.9,1699.6 1427.6,1707.9 1419.3,1699.6" fill="#00f8f8"/>
<text transform="translate(1470.8 1708.9) scale(1 1.07)" class="lg" style="font-size:23.6px">Original frame</text>
<text x="1296.3" y="2148.1" class="ti" style="font-size:29.3px" text-anchor="middle">Interlayer displacement (mm)</text>
<text transform="translate(931.8 1832.8) rotate(-90)" class="ti" style="font-size:28.4px" text-anchor="middle">Floor (s)</text>
<text x="1263.4" y="2253.9" class="par" text-anchor="middle">(</text>
<text x="1287.2" y="2254.2" class="cap" text-anchor="middle">f</text>
<text x="1310.5" y="2253.9" class="par" text-anchor="middle">)</text>
</svg>
</body></html>
